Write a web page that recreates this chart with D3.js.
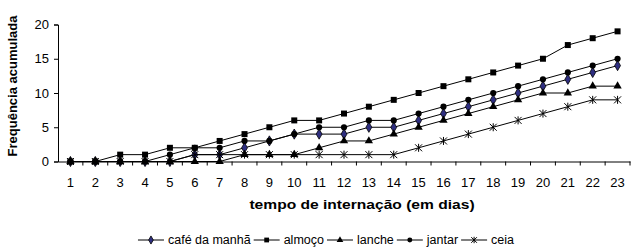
<!DOCTYPE html>
<html>
<head>
<meta charset="utf-8">
<script src="https://cdn.jsdelivr.net/npm/d3@7"></script>
<style>
  body { margin: 0; background: #fff; }
  text { font-family: "Liberation Sans", Arial, sans-serif; fill: #000; }
</style>
</head>
<body>
<svg id="chart" width="632" height="250"></svg>
<script>
// categories: days of hospital stay
const days = ["1","2","3","4","5","6","7","8","9","10","11","12","13","14","15","16","17","18","19","20","21","22","23"];
const yTicks = [0, 5, 10, 15, 20];

const seriesNames = ["café da manhã", "almoço", "lanche", "jantar", "ceia"];
const cafe   = [0,0,0,0,0,1,1,2,3,4,4,4,5,5,6,7,8,9,10,11,12,13,14];
const almoco = [0,0,1,1,2,2,3,4,5,6,6,7,8,9,10,11,12,13,14,15,17,18,19];
const lanche = [0,0,0,0,0,0,0,1,1,1,2,3,3,4,5,6,7,8,9,10,10,11,11];
const jantar = [0,0,0,0,1,2,2,3,3,4,5,5,6,6,7,8,9,10,11,12,13,14,15];
const ceia   = [0,0,0,0,0,1,1,1,1,1,1,1,1,1,2,3,4,5,6,7,8,9,9];

const series = [
  {name: seriesNames[0], values: cafe,   marker: "diamond"},
  {name: seriesNames[1], values: almoco, marker: "square"},
  {name: seriesNames[2], values: lanche, marker: "triangle"},
  {name: seriesNames[3], values: jantar, marker: "circle"},
  {name: seriesNames[4], values: ceia,   marker: "star"}
];

var margin = {top: 24.5, right: 2, bottom: 88.5, left: 58},
    width = 632 - margin.left - margin.right,
    height = 250 - margin.top - margin.bottom;

var svg = d3.select("#chart");
var g = svg.append("g")
    .attr("transform", "translate(" + margin.left + "," + margin.top + ")");

var x = d3.scaleBand().domain(days).range([0, width]);
var y = d3.scaleLinear().domain([0, 20]).range([height, 0]);

// y axis
var yAxis = g.append("g")
    .call(d3.axisLeft(y).tickValues(yTicks).tickSize(4).tickPadding(5));
yAxis.selectAll("text").style("font-size", "13px");
yAxis.selectAll("line, path").attr("stroke", "#000");

// x axis: labels centered in bands, tick marks on band edges
var xAxis = g.append("g")
    .attr("transform", "translate(0," + height + ")")
    .call(d3.axisBottom(x).tickSize(0).tickPadding(16));
xAxis.selectAll("text").style("font-size", "13px");
xAxis.select(".domain").attr("stroke", "#000");
xAxis.selectAll(".edge")
    .data(days.slice(1).map(function(d) { return x(d); }).concat([width]))
  .enter().append("line")
    .attr("class", "edge")
    .attr("x1", function(d) { return d; })
    .attr("x2", function(d) { return d; })
    .attr("y1", 0).attr("y2", 4)
    .attr("stroke", "#000");

// axis titles
svg.append("text")
    .attr("transform", "translate(17,86) rotate(-90)")
    .attr("text-anchor", "middle")
    .style("font-size", "13px")
    .style("font-weight", "bold")
    .text("Frequência acumulada");

svg.append("text")
    .attr("transform", "translate(362,209) scale(1.2,1)")
    .attr("text-anchor", "middle")
    .style("font-size", "13px")
    .style("font-weight", "bold")
    .text("tempo de internação (em dias)");

function drawMarker(sel, type, k) {
  k = k || 1;
  if (type === "star") {
    sel.append("path")
      .attr("d", "M-3.5,-3.5L3.5,3.5M-3.5,3.5L3.5,-3.5M0,-4L0,4")
      .attr("transform", "scale(" + k + ")")
      .attr("stroke", "#000").attr("stroke-width", 1 / k).attr("fill", "none");
    return;
  }
  var sym = {diamond: d3.symbolDiamond, square: d3.symbolSquare,
             triangle: d3.symbolTriangle, circle: d3.symbolCircle}[type];
  var size = {diamond: 30, square: 36, triangle: 30, circle: 30}[type];
  sel.append("path")
    .attr("d", d3.symbol().type(sym).size(size * k * k)())
    .attr("fill", type === "diamond" ? "#2e2e80" : "#000")
    .attr("stroke", "#000")
    .attr("stroke-width", type === "diamond" ? 0.8 : 0);
}

var line = d3.line()
    .x(function(d, i) { return x(days[i]) + x.bandwidth() / 2; })
    .y(function(d) { return y(d); });

series.forEach(function(s) {
  var sg = g.append("g");
  sg.append("path")
    .attr("d", line(s.values))
    .attr("fill", "none")
    .attr("stroke", "#000")
    .attr("stroke-width", 1);
  s.values.forEach(function(v, i) {
    var m = sg.append("g")
      .attr("transform", "translate(" + (x(days[i]) + x.bandwidth() / 2) + "," + y(v) + ")");
    drawMarker(m, s.marker);
  });
});

// legend
var legend = svg.append("g");
var lx = 0;
series.forEach(function(s) {
  var item = legend.append("g").attr("transform", "translate(" + lx + ",0)");
  item.append("line").attr("x1", 0).attr("x2", 26).attr("y1", 0).attr("y2", 0)
    .attr("stroke", "#000");
  drawMarker(item.append("g").attr("transform", "translate(13,0)"), s.marker, 0.8);
  var t = item.append("text")
    .attr("x", 30).attr("y", 4.3)
    .style("font-size", "12.5px")
    .text(s.name);
  lx += 30 + t.node().getComputedTextLength() + 3;
});
var lw = lx - 3;
legend.attr("transform", "translate(" + (326 - lw / 2) + ",240)");
</script>
</body>
</html>
